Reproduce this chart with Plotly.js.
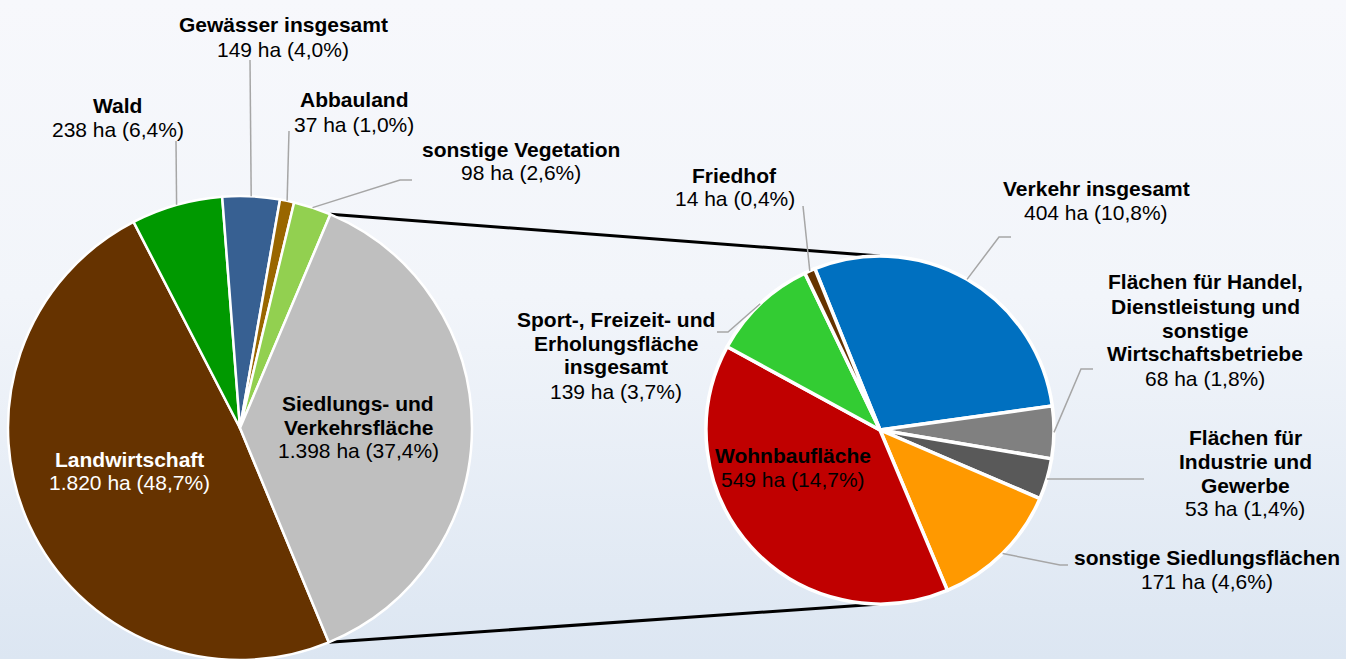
<!DOCTYPE html>
<html><head><meta charset="utf-8">
<script src="https://cdn.plot.ly/plotly-3.0.1.min.js"></script>
<style>
html,body{margin:0;padding:0;overflow:hidden;width:1346px;height:659px;
background:linear-gradient(to bottom,#F7F8FC 0%,#F2F5FA 45%,#DCE6F2 100%);}
#chart{width:1346px;height:700px;}
</style>
</head><body><div id="chart"></div>
<script>
// ---------- data ----------
const mainLabels = ["Landwirtschaft","Wald","Gewässer insgesamt","Abbauland","sonstige Vegetation","Siedlungs- und Verkehrsfläche"];
const mainValues = [1820, 238, 149, 37, 98, 1398];
const mainLines  = [["Landwirtschaft"],["Wald"],["Gewässer insgesamt"],["Abbauland"],["sonstige Vegetation"],["Siedlungs- und","Verkehrsfläche"]];

const subLabels = ["Verkehr insgesamt","Flächen für Handel, Dienstleistung und sonstige Wirtschaftsbetriebe","Flächen für Industrie und Gewerbe","sonstige Siedlungsflächen","Wohnbaufläche","Sport-, Freizeit- und Erholungsfläche insgesamt","Friedhof"];
const subValues = [404, 68, 53, 171, 549, 139, 14];
const subLines  = [["Verkehr insgesamt"],["Flächen für Handel,","Dienstleistung und","sonstige","Wirtschaftsbetriebe"],["Flächen für","Industrie und","Gewerbe"],["sonstige Siedlungsflächen"],["Wohnbaufläche"],["Sport-, Freizeit- und","Erholungsfläche","insgesamt"],["Friedhof"]];
const unit = "ha";

// ---------- style / layout ----------
const mainColors = ["#663300","#009900","#376092","#996600","#92D050","#BFBFBF"];
const subColors  = ["#0070C0","#808080","#595959","#FF9900","#C00000","#33CC33","#663300"];
const W = 1346, H = 700;
const FONT = "Liberation Sans, Arial, sans-serif";
const FS = 21, LH = 24;
const M = {cx:240, cy:428, r:232, rot:157.5};
const S = {cx:880, cy:430, r:174, rot:338};

// label placement: [centre x, y of first line, text colour, leader route (pixel points after the anchor) or null]
const mainPlace = [
  [129, 459, "#FFFFFF", null],
  [118, 105, "#000000", [[176,141]]],
  [283, 25,  "#000000", [[250,60]]],
  [354, 100, "#000000", [[289,131]]],
  [521, 149, "#000000", [[400,180],[412,180]]],
  [358, 403, "#000000", null]
];
const subPlace = [
  [1096, 188, "#000000", [[999,237],[1011,237]]],
  [1205, 282, "#000000", [[1081,369],[1093,369]]],
  [1245, 437, "#000000", [[1144,479]]],
  [1207, 557, "#000000", [[1060,565],[1068,565]]],
  [793, 455,  "#000000", null],
  [616, 319,  "#000000", [[728,332],[717,332]]],
  [735, 175,  "#000000", [[803,206]]]
];

const px = x => x / W, py = y => 1 - y / H;
const total = mainValues.reduce((a,b)=>a+b,0);
function fmtNum(n){ return String(n).replace(/\B(?=(\d{3})+(?!\d))/g, "."); }
function fmtPct(v){ return (v/total*100).toFixed(1).replace(".", ","); }
function domainOf(g){ return {x:[px(g.cx-g.r), px(g.cx+g.r)], y:[py(g.cy+g.r), py(g.cy-g.r)]}; }
function pointAt(g, deg){ const a = deg*Math.PI/180; return [g.cx + g.r*Math.sin(a), g.cy - g.r*Math.cos(a)]; }
function midAngles(g, vals){
  const t = vals.reduce((a,b)=>a+b,0); let c = 0;
  return vals.map(v => { const m = g.rot + (c + v/2)/t*360; c += v; return m; });
}

const annotations = [], shapes = [];
function addLabels(g, vals, lines, place){
  const mids = midAngles(g, vals);
  vals.forEach((v,i) => {
    const [cx, y0, col, route] = place[i];
    const all = lines[i].map(s => "<b>"+s+"</b>").concat([fmtNum(v)+" "+unit+" ("+fmtPct(v)+"%)"]);
    all.forEach((t,k) => annotations.push({xref:"paper", yref:"paper", x:px(cx), y:py(y0+k*LH),
      text:t, showarrow:false, xanchor:"center", yanchor:"middle",
      font:{family:FONT, size:FS, color:col}}));
    if(route){
      const pts = [pointAt(g, mids[i])].concat(route);
      const path = pts.map((p,k)=>(k?"L":"M")+px(p[0])+","+py(p[1])).join(" ");
      shapes.push({type:"path", xref:"paper", yref:"paper", path:path, line:{color:"#A6A6A6", width:1.5}, layer:"above"});
    }
  });
}
addLabels(M, mainValues, mainLines, mainPlace);
addLabels(S, subValues, subLines, subPlace);

// connector lines from the "Siedlungs- und Verkehrsfläche" slice to the secondary pie
const sIdx = mainValues.length - 1;
const before = mainValues.slice(0, sIdx).reduce((a,b)=>a+b,0);
const aStart = M.rot + before/total*360, aEnd = M.rot + 360;
const p1 = pointAt(M, aStart), p2 = pointAt(M, aEnd);
const q1 = pointAt(S, 0), q2 = pointAt(S, 180);
[[p1,q1],[p2,q2]].forEach(([a,b]) => shapes.push({type:"line", xref:"paper", yref:"paper",
  x0:px(a[0]), y0:py(a[1]), x1:px(b[0]), y1:py(b[1]), line:{color:"#000000", width:3}, layer:"below"}));

const traces = [
  {type:"pie", labels:mainLabels, values:mainValues, sort:false, direction:"clockwise", rotation:M.rot,
   domain:domainOf(M), marker:{colors:mainColors, line:{color:"#FFFFFF", width:2.5}},
   textinfo:"none", hoverinfo:"label+value", showlegend:false},
  {type:"pie", labels:subLabels, values:subValues, sort:false, direction:"clockwise", rotation:S.rot,
   domain:domainOf(S), marker:{colors:subColors, line:{color:"#FFFFFF", width:3.5}},
   textinfo:"none", hoverinfo:"label+value", showlegend:false}
];

const layout = {width:W, height:H, margin:{l:0,r:0,t:0,b:0},
  paper_bgcolor:"rgba(0,0,0,0)", plot_bgcolor:"rgba(0,0,0,0)",
  font:{family:FONT, size:FS, color:"#000"}, showlegend:false,
  annotations:annotations, shapes:shapes};

Plotly.newPlot("chart", traces, layout, {displayModeBar:false, staticPlot:true});
</script>
</body></html>
